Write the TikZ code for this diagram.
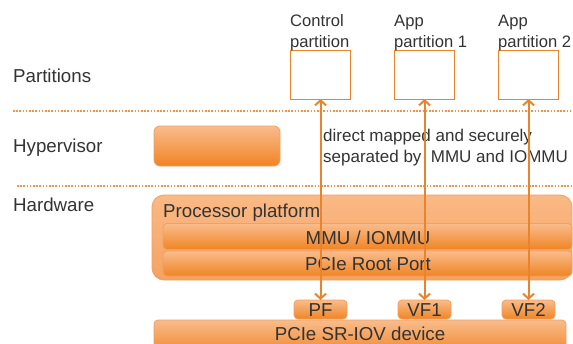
\documentclass[tikz,border=0pt]{standalone}
\usepackage{fontspec}
\setmainfont{Liberation Sans}
\usetikzlibrary{arrows.meta}
\definecolor{txt}{HTML}{333333}
\definecolor{ora}{HTML}{E8842E}
\definecolor{oratop}{HTML}{F9BC8C}
\definecolor{orabot}{HTML}{F08424}
\definecolor{platop}{HTML}{FAB985}
\definecolor{plabot}{HTML}{F5A262}
\definecolor{oraedge}{HTML}{F0A060}
\tikzset{
  big/.style={font=\fontsize{18.7}{22}\selectfont, text=txt},
  small/.style={font=\fontsize{16.6}{21}\selectfont, text=txt},
  pbox/.style={draw=ora, line width=1pt, fill=white, inner sep=0pt, outer sep=0pt, minimum width=60pt, minimum height=49pt},
  gbox/.style={draw=oraedge, line width=0.8pt, top color=oratop, bottom color=orabot, rounded corners=4pt, inner sep=0pt, outer sep=0pt},
  platbox/.style={draw=oraedge, line width=0.8pt, top color=platop, bottom color=plabot, rounded corners=12pt, inner sep=0pt, outer sep=0pt},
  sepline/.style={draw=ora!85, line width=1.6pt, dash pattern=on 1.6pt off 1.6pt},
  dblarrow/.style={draw=ora, line width=2pt, {Straight Barb[length=5pt,width=11pt]}-{Straight Barb[length=5pt,width=11pt]}},
}
\begin{document}
\begin{tikzpicture}[x=1pt,y=-1pt]
\clip (0,0) rectangle (573,343);
% layer labels
\node[big, anchor=base west, inner sep=0pt] (lpart) at (13,82) {Partitions};
\node[big, anchor=base west, inner sep=0pt] (lhyp) at (13,152) {Hypervisor};
\node[big, anchor=base west, inner sep=0pt] (lhw) at (13,211) {Hardware};
% separators
\coordinate (s1a) at (13,111);
\coordinate (s1b) at (573,111);
\coordinate (s2a) at (17,186);
\coordinate (s2b) at (573,186);
\draw[sepline] (s1a) -- (s1b);
\draw[sepline] (s2a) -- (s2b);
% partitions
\node[pbox] (ctrl) at (320.5,74.5) {};
\node[pbox] (app1) at (424.5,74.5) {};
\node[pbox] (app2) at (528.5,74.5) {};
\node[small, anchor=base west, inner sep=0pt, align=left] (tctrl) at (290,47) {Control\\partition};
\node[small, anchor=base west, inner sep=0pt, align=left] (tapp1) at (394,47) {App\\partition 1};
\node[small, anchor=base west, inner sep=0pt, align=left] (tapp2) at (498,47) {App\\partition 2};
% hypervisor
\node[gbox, rounded corners=6pt, minimum width=126pt, minimum height=40pt] (hyp) at (217,146) {};
\node[font=\fontsize{17}{21}\selectfont, text=txt, anchor=base west, inner sep=0pt, align=left] (annot) at (323,162) {direct mapped and securely\\separated by\ \ MMU and IOMMU};
% processor platform
\node[platbox, minimum width=420pt, minimum height=85pt] (plat) at (362,237.5) {};
\node[big, anchor=base west, inner sep=0pt] (tplat) at (163,217) {Processor platform};
\node[gbox, minimum width=409pt, minimum height=26pt] (mmu) at (367.5,236.5) {};
\node[big, anchor=base, inner sep=0pt] (tmmu) at (368,244) {MMU / IOMMU};
\node[gbox, minimum width=409pt, minimum height=25pt] (rp) at (367.5,263.5) {};
\node[big, anchor=base, inner sep=0pt] (trp) at (368,270) {PCIe Root Port};
% device
\node[gbox, minimum width=412pt, minimum height=36pt] (dev) at (360,338) {};
\node[big, anchor=base, inner sep=0pt] (tdev) at (360,340) {PCIe SR-IOV device};
\node[gbox, minimum width=53pt, minimum height=19pt] (pf) at (320.5,309.5) {};
\node[gbox, minimum width=53pt, minimum height=19pt] (vf1) at (424.5,309.5) {};
\node[gbox, minimum width=53pt, minimum height=19pt] (vf2) at (528.5,309.5) {};
\node[big, anchor=base, inner sep=0pt] (tpf) at (320.5,316) {PF};
\node[big, anchor=base, inner sep=0pt] (tvf1) at (424.5,316) {VF1};
\node[big, anchor=base, inner sep=0pt] (tvf2) at (528.5,316) {VF2};
% arrows
\draw[dblarrow] (ctrl.south) -- (pf.north);
\draw[dblarrow] (app1.south) -- (vf1.north);
\draw[dblarrow] (app2.south) -- (vf2.north);
\end{tikzpicture}
\end{document}
